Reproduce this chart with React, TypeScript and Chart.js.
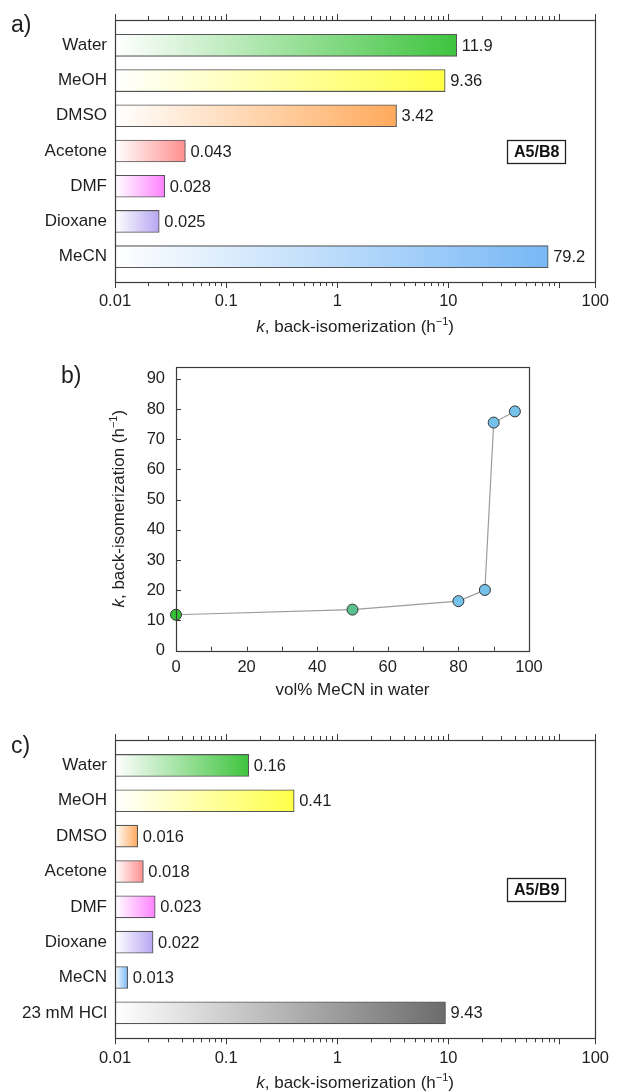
import React, { useEffect, useRef } from 'react';
import { Chart, registerables } from 'chart.js';

Chart.register(...registerables);

const FONT = '"Liberation Sans", Arial, Helvetica, sans-serif';
const TEXT = '#1e1e1e';
const LINE = '#3a3a3a';

// ---------- panel a ----------
const solventsA = ['Water', 'MeOH', 'DMSO', 'Acetone', 'DMF', 'Dioxane', 'MeCN'];
const kA = [11.9, 9.36, 3.42, 0.043, 0.028, 0.025, 79.2];
const colorsA = ['#3ec43e', '#ffff48', '#ffaa5c', '#ff8e8e', '#ff82ff', '#b6a6f2', '#78b8f6'];
const tagA = 'A5/B8';

// ---------- panel b ----------
const volMeCN = [0, 50, 80, 87.5, 90, 96];
const kB = [11.9, 13.6, 16.4, 20.1, 75.5, 79.2];
const pointColorsB = ['#36c236', '#5cc08e', '#74c2ea', '#74c2ea', '#74c2ea', '#74c2ea'];
const xLabelValuesB = [0, 20, 40, 60, 80, 100];
const xTickMarksB = [10, 20, 30, 40, 50, 60, 70, 80, 90];
const yLabelValuesB = [0, 10, 20, 30, 40, 50, 60, 70, 80, 90];
const xTitleB = 'vol% MeCN in water';

// ---------- panel c ----------
const solventsC = ['Water', 'MeOH', 'DMSO', 'Acetone', 'DMF', 'Dioxane', 'MeCN', '23 mM HCl'];
const kC = [0.16, 0.41, 0.016, 0.018, 0.023, 0.022, 0.013, 9.43];
const colorsC = ['#3ec43e', '#ffff48', '#ffaa5c', '#ff8e8e', '#ff82ff', '#b6a6f2', '#78b8f6', '#6c6c6c'];
const tagC = 'A5/B9';

// ---------- shared log axis ----------
const LOG_MIN = 0.01;
const LOG_MAX = 210; // frame extends past 100; the reference prints "100" at the frame edge
const logLabelValues = [0.01, 0.1, 1, 10, LOG_MAX];
const logLabels = ['0.01', '0.1', '1', '10', '100'];
const logMajorMarks = [0.01, 0.1, 1, 10, 100, LOG_MAX];
const logDecades = [0.01, 0.1, 1, 10];
const logMinorMults = [2, 3, 4, 5, 6, 7, 8, 9];

function drawKTitle(ctx: CanvasRenderingContext2D, cx: number, cy: number, size: number, rotate: boolean) {
  const base = `${size}px ${FONT}`;
  const ital = `italic ${size}px ${FONT}`;
  const sup = `${Math.round(size * 0.62)}px ${FONT}`;
  const parts = [
    { t: 'k', f: ital, dy: 0 },
    { t: ', back-isomerization (h', f: base, dy: 0 },
    { t: '\u22121', f: sup, dy: -size * 0.4 },
    { t: ')', f: base, dy: 0 },
  ];
  ctx.save();
  ctx.translate(cx, cy);
  if (rotate) ctx.rotate(-Math.PI / 2);
  let total = 0;
  const widths = parts.map((p) => {
    ctx.font = p.f;
    const w = ctx.measureText(p.t).width;
    total += w;
    return w;
  });
  let x = -total / 2;
  ctx.textBaseline = 'alphabetic';
  ctx.textAlign = 'left';
  ctx.fillStyle = TEXT;
  parts.forEach((p, i) => {
    ctx.font = p.f;
    ctx.fillText(p.t, x, size * 0.36 + p.dy);
    x += widths[i];
  });
  ctx.restore();
}

function drawPanelLabel(ctx: CanvasRenderingContext2D, text: string, x: number, y: number) {
  ctx.save();
  ctx.font = `23px ${FONT}`;
  ctx.fillStyle = TEXT;
  ctx.textAlign = 'left';
  ctx.textBaseline = 'middle';
  ctx.fillText(text, x, y);
  ctx.restore();
}

function drawFrame(ctx: CanvasRenderingContext2D, chart: any) {
  const { left, right, top, bottom } = chart.chartArea;
  ctx.save();
  ctx.strokeStyle = LINE;
  ctx.lineWidth = 1.2;
  ctx.strokeRect(Math.round(left) + 0.5, Math.round(top) + 0.5, Math.round(right - left), Math.round(bottom - top));
  ctx.restore();
}

function makeBarChart(
  canvas: HTMLCanvasElement,
  solvents: string[],
  values: number[],
  colors: string[],
  tag: string,
  tagRow: number,
  panel: string,
  padTop: number,
  xAxisHeight: number,
  titleY: number,
  panelLabelY: number,
) {
  const n = solvents.length;
  const plugin = {
    id: 'decor' + panel,
    afterDraw(chart: any) {
      const ctx = chart.ctx as CanvasRenderingContext2D;
      const xs = chart.scales.x;
      const ys = chart.scales.y;
      const { left, right, top, bottom } = chart.chartArea;
      drawFrame(ctx, chart);
      // tick marks top & bottom (outward)
      ctx.save();
      ctx.strokeStyle = LINE;
      ctx.lineWidth = 1;
      ctx.beginPath();
      const mark = (v: number, len: number) => {
        const px = Math.round(xs.getPixelForValue(v)) + 0.5;
        ctx.moveTo(px, top);
        ctx.lineTo(px, top - len);
        ctx.moveTo(px, bottom);
        ctx.lineTo(px, bottom + len);
      };
      logMajorMarks.forEach((v) => mark(v, 6));
      logDecades.forEach((d) => logMinorMults.forEach((m) => mark(d * m, 4)));
      ctx.stroke();
      ctx.restore();
      // value labels
      const meta = chart.getDatasetMeta(0);
      ctx.save();
      ctx.font = `16.5px ${FONT}`;
      ctx.fillStyle = TEXT;
      ctx.textAlign = 'left';
      ctx.textBaseline = 'middle';
      meta.data.forEach((bar: any, i: number) => {
        ctx.fillText(String(values[i]), bar.x + 5, bar.y + 1);
      });
      ctx.restore();
      // tag box
      const cy = ys.getPixelForValue(tagRow);
      const bx = right - 88;
      const bw = 58;
      const bh = 23;
      ctx.save();
      ctx.fillStyle = '#ffffff';
      ctx.fillRect(bx, cy - bh / 2, bw, bh);
      ctx.strokeStyle = '#222';
      ctx.lineWidth = 1.3;
      ctx.strokeRect(Math.round(bx) + 0.5, Math.round(cy - bh / 2) + 0.5, bw, bh);
      ctx.font = `bold 16px ${FONT}`;
      ctx.fillStyle = '#111';
      ctx.textAlign = 'center';
      ctx.textBaseline = 'middle';
      ctx.fillText(tag, bx + bw / 2 + 0.5, cy + 1.5);
      ctx.restore();
      // axis title and panel label
      drawKTitle(ctx, (left + right) / 2, titleY, 17, false);
      drawPanelLabel(ctx, panel, 11, panelLabelY);
    },
  };

  return new Chart(canvas, {
    type: 'bar',
    data: {
      datasets: [
        {
          data: solvents.map((_, i) => ({ x: values[i], y: i })),
          base: LOG_MIN,
          barThickness: 22,
          borderColor: '#555555',
          borderWidth: 1.1,
          borderSkipped: false,
          backgroundColor: (c: any) => {
            const i = c.dataIndex;
            if (i === undefined) return colors[0];
            const xs = c.chart.scales && c.chart.scales.x;
            if (!xs) return colors[i];
            const x0 = xs.getPixelForValue(LOG_MIN);
            const x1 = xs.getPixelForValue(values[i]);
            if (!isFinite(x0) || !isFinite(x1) || x1 <= x0) return colors[i];
            const g = c.chart.ctx.createLinearGradient(x0, 0, x1, 0);
            g.addColorStop(0, '#ffffff');
            g.addColorStop(1, colors[i]);
            return g;
          },
        } as any,
      ],
    },
    options: {
      indexAxis: 'y',
      responsive: false,
      animation: false,
      layout: { padding: { top: padTop, right: 17, left: 0, bottom: 0 } },
      plugins: { legend: { display: false }, tooltip: { enabled: false } },
      scales: {
        x: {
          type: 'logarithmic',
          position: 'bottom',
          min: LOG_MIN,
          max: LOG_MAX,
          offset: false,
          afterBuildTicks: (s: any) => {
            s.ticks = logLabelValues.map((v) => ({ value: v }));
          },
          afterFit: (s: any) => {
            s.height = xAxisHeight;
          },
          ticks: {
            callback: (_v: any, i: number) => logLabels[i],
            autoSkip: false,
            maxRotation: 0,
            minRotation: 0,
            padding: 10,
            color: TEXT,
            font: { family: FONT, size: 16.5 },
          },
          grid: { display: false, drawTicks: false },
          border: { display: false },
        },
        y: {
          type: 'linear',
          reverse: true,
          min: -0.72,
          max: n - 1 + 0.72,
          offset: false,
          afterBuildTicks: (s: any) => {
            s.ticks = solvents.map((_, i) => ({ value: i }));
          },
          afterFit: (s: any) => {
            s.width = 115;
          },
          ticks: {
            callback: (v: any) => solvents[v as number] ?? '',
            autoSkip: false,
            padding: 8,
            color: TEXT,
            font: { family: FONT, size: 17 },
          },
          grid: { display: false, drawTicks: false },
          border: { display: false },
        },
      },
    } as any,
    plugins: [plugin],
  });
}

function makeLineChart(canvas: HTMLCanvasElement) {
  const plugin = {
    id: 'decorB',
    afterDraw(chart: any) {
      const ctx = chart.ctx as CanvasRenderingContext2D;
      const xs = chart.scales.x;
      const ys = chart.scales.y;
      const { left, right, top, bottom } = chart.chartArea;
      drawFrame(ctx, chart);
      ctx.save();
      ctx.strokeStyle = LINE;
      ctx.lineWidth = 1;
      ctx.beginPath();
      xTickMarksB.forEach((v) => {
        const px = Math.round(xs.getPixelForValue(v)) + 0.5;
        ctx.moveTo(px, bottom);
        ctx.lineTo(px, bottom - 4);
      });
      yLabelValuesB.forEach((v) => {
        const py = Math.round(ys.getPixelForValue(v)) + 0.5;
        ctx.moveTo(left, py);
        ctx.lineTo(left + 5, py);
      });
      ctx.stroke();
      ctx.restore();
      ctx.save();
      ctx.font = `17px ${FONT}`;
      ctx.fillStyle = TEXT;
      ctx.textAlign = 'center';
      ctx.textBaseline = 'middle';
      ctx.fillText(xTitleB, (left + right) / 2, 345);
      ctx.restore();
      drawKTitle(ctx, 118, (top + bottom) / 2, 17, true);
      drawPanelLabel(ctx, 'b)', 61, 32);
    },
  };
  return new Chart(canvas, {
    type: 'line',
    data: {
      datasets: [
        {
          data: volMeCN.map((x, i) => ({ x, y: kB[i] })),
          borderColor: '#9c9c9c',
          borderWidth: 1.2,
          pointBackgroundColor: pointColorsB,
          pointBorderColor: '#333333',
          pointBorderWidth: 1,
          pointRadius: 5.5,
          tension: 0,
          clip: false,
        } as any,
      ],
    },
    options: {
      responsive: false,
      animation: false,
      layout: { padding: { top: 21.7, right: 90, left: 0, bottom: 0 } },
      plugins: { legend: { display: false }, tooltip: { enabled: false } },
      scales: {
        x: {
          type: 'linear',
          min: 0,
          max: 100,
          afterBuildTicks: (s: any) => {
            s.ticks = xLabelValuesB.map((v) => ({ value: v }));
          },
          afterFit: (s: any) => {
            s.height = 59.3;
          },
          ticks: {
            callback: (v: any) => String(v),
            autoSkip: false,
            maxRotation: 0,
            padding: 7,
            color: TEXT,
            font: { family: FONT, size: 16.5 },
          },
          grid: { display: false, drawTicks: false },
          border: { display: false },
        },
        y: {
          type: 'linear',
          min: 0,
          max: 94,
          afterBuildTicks: (s: any) => {
            s.ticks = yLabelValuesB.map((v) => ({ value: v }));
          },
          afterFit: (s: any) => {
            s.width = 176;
          },
          ticks: {
            callback: (v: any) => String(v),
            autoSkip: false,
            padding: 11,
            color: TEXT,
            font: { family: FONT, size: 16.5 },
          },
          grid: { display: false, drawTicks: false },
          border: { display: false },
        },
      },
    } as any,
    plugins: [plugin],
  });
}

export default function App() {
  const refA = useRef<HTMLCanvasElement | null>(null);
  const refB = useRef<HTMLCanvasElement | null>(null);
  const refC = useRef<HTMLCanvasElement | null>(null);

  useEffect(() => {
    const charts: Chart[] = [];
    if (refA.current) charts.push(makeBarChart(refA.current, solventsA, kA, colorsA, tagA, 3, 'a)', 20, 63, 326, 26));
    if (refB.current) charts.push(makeLineChart(refB.current));
    if (refC.current) charts.push(makeBarChart(refC.current, solventsC, kC, colorsC, tagC, 3.5, 'c)', 30, 52.7, 372, 37));
    return () => charts.forEach((c) => c.destroy());
  }, []);

  return (
    <div style={{ position: 'absolute', left: 0, top: 0, width: 619, height: 1091, background: '#fff' }}>
      <canvas ref={refA} width={619} height={345} style={{ position: 'absolute', left: 0, top: 0 }} />
      <canvas ref={refB} width={619} height={365} style={{ position: 'absolute', left: 0, top: 345 }} />
      <canvas ref={refC} width={619} height={381} style={{ position: 'absolute', left: 0, top: 710 }} />
    </div>
  );
}
